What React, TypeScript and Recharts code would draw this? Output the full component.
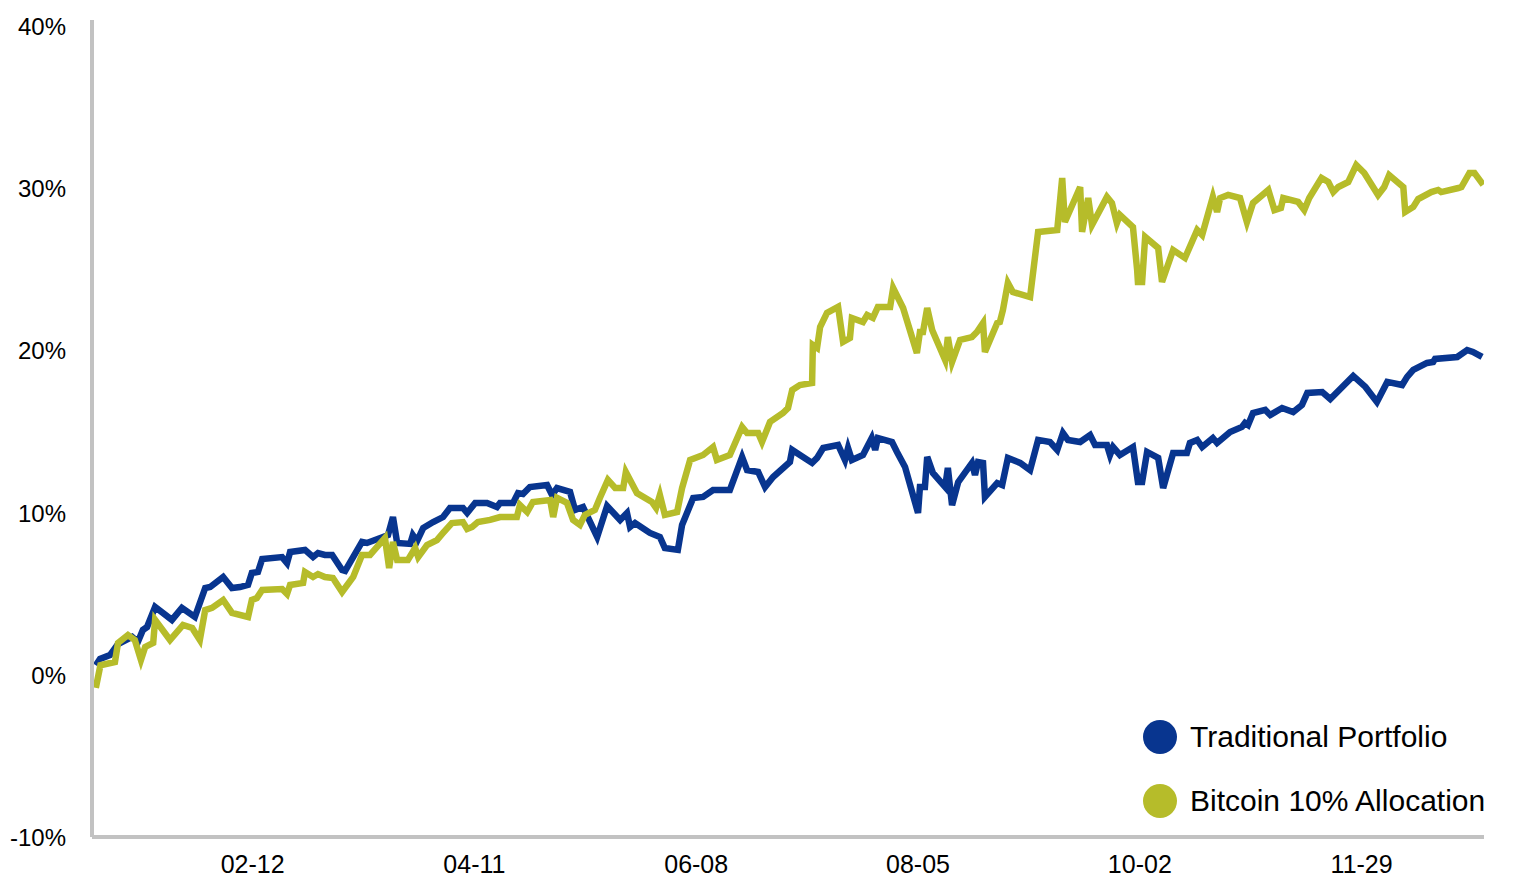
import { LineChart, Line, XAxis, YAxis, Legend } from "recharts";

// day-of-year index (0 = Jan 1) and cumulative return, %
const tradDays = [
  1.0, 2.1, 4.7, 6.8, 10.5, 12.0, 13.3, 14.4, 16.5, 20.9, 23.5, 26.9, 29.6, 30.9, 34.3, 36.6, 38.7, 40.8, 41.8, 43.4,
  44.5, 49.7, 51.0, 51.8, 55.7, 57.8, 59.1, 60.9, 62.8, 65.4, 66.2, 70.6, 71.9, 76.1, 77.4, 78.7, 79.8, 83.2, 83.9, 85.0,
  86.6, 89.2, 91.8, 93.6, 97.0, 98.1, 100.2, 103.3, 105.9, 106.7, 110.1, 111.4, 112.7, 114.5, 119.0, 120.3, 121.6, 125.0, 126.3, 128.4,
  132.1, 134.7, 138.1, 139.9, 140.7, 142.0, 145.9, 148.5, 149.8, 153.2, 154.3, 157.2, 159.8, 162.4, 166.8, 170.0, 171.3, 174.2, 176.0, 178.1,
  182.5, 183.1, 188.3, 189.6, 191.2, 195.1, 196.9, 197.7, 198.7, 201.6, 203.9, 204.8, 205.5, 209.2, 210.5, 212.6, 216.0, 216.5, 217.8, 218.4,
  219.9, 223.1, 223.8, 224.9, 226.5, 230.1, 230.9, 231.7, 233.0, 233.5, 236.7, 238.0, 239.5, 242.7, 245.3, 247.4, 250.5, 252.4, 253.9, 255.2,
  258.4, 261.0, 262.3, 265.4, 266.2, 267.0, 268.8, 272.2, 273.5, 274.6, 275.9, 278.8, 280.1, 282.7, 286.3, 287.1, 289.0, 290.3, 293.1, 294.2,
  297.6, 300.7, 301.5, 302.3, 303.6, 306.8, 308.1, 311.2, 314.1, 316.4, 317.8, 321.7, 323.8, 329.8, 333.0, 336.0, 338.7, 342.6, 343.9, 345.5,
  349.1, 350.7, 351.2, 357.0, 359.6, 361.1, 363.5,
];
const tradValues = [
  0.6, 0.99, 1.23, 1.91, 2.35, 2.04, 2.78, 2.96, 4.2, 3.4, 4.14, 3.58, 5.37, 5.43, 6.05, 5.37, 5.43, 5.56, 6.3, 6.36,
  7.16, 7.28, 6.91, 7.59, 7.72, 7.28, 7.53, 7.41, 7.41, 6.48, 6.42, 8.21, 8.15, 8.52, 8.64, 9.75, 8.15, 8.09, 8.64, 8.27,
  9.07, 9.44, 9.75, 10.31, 10.31, 10.0, 10.62, 10.62, 10.37, 10.62, 10.62, 11.23, 11.17, 11.6, 11.73, 11.11, 11.54, 11.3, 10.19, 10.37,
  8.52, 10.43, 9.57, 10.0, 9.14, 9.38, 8.77, 8.52, 7.84, 7.72, 9.26, 10.93, 10.99, 11.42, 11.42, 13.46, 12.65, 12.53, 11.6, 12.22,
  13.15, 13.89, 13.09, 13.4, 14.01, 14.2, 13.27, 14.01, 13.27, 13.58, 14.63, 13.89, 14.63, 14.38, 13.77, 12.84, 10.0, 11.6, 11.6, 13.46,
  12.47, 11.6, 12.78, 10.49, 11.91, 13.09, 12.35, 13.15, 13.09, 10.99, 11.85, 11.73, 13.4, 13.09, 12.65, 14.51, 14.38, 13.89, 14.94, 14.51,
  14.38, 14.81, 14.2, 14.2, 13.58, 14.07, 13.58, 14.07, 11.91, 11.91, 13.77, 13.4, 11.54, 13.7, 13.7, 14.32, 14.51, 14.07, 14.63, 14.32,
  15.0, 15.31, 15.56, 15.43, 16.17, 16.36, 16.05, 16.48, 16.23, 16.67, 17.41, 17.47, 17.04, 18.46, 17.78, 16.85, 18.09, 17.9, 18.4, 18.83,
  19.26, 19.32, 19.51, 19.63, 20.06, 19.94, 19.63,
];

const btcDays = [
  1.0, 2.2, 6.0, 6.8, 9.4, 11.2, 12.8, 13.9, 16.0, 16.5, 20.4, 23.8, 26.2, 28.2, 29.6, 31.4, 34.3, 36.6, 40.8, 41.8,
  43.1, 44.5, 49.7, 51.0, 51.8, 55.2, 55.7, 57.8, 59.1, 60.9, 63.0, 65.4, 68.3, 70.6, 72.7, 76.6, 77.7, 78.7, 79.8, 82.6,
  84.5, 85.3, 87.6, 90.2, 91.8, 94.1, 97.0, 98.1, 99.4, 100.9, 104.1, 106.7, 111.1, 111.9, 113.8, 115.3, 119.8, 120.6, 121.6, 124.2,
  125.8, 127.6, 128.9, 131.5, 132.8, 134.9, 136.8, 138.9, 139.6, 142.5, 146.4, 147.5, 148.5, 149.8, 153.0, 154.3, 156.4, 159.8, 162.4, 163.4,
  166.8, 170.0, 171.3, 174.2, 175.2, 177.3, 180.7, 182.0, 183.1, 185.1, 188.3, 188.5, 189.6, 190.4, 192.2, 195.1, 196.4, 198.2, 198.7, 201.6,
  202.7, 204.2, 205.5, 208.7, 209.5, 212.1, 215.7, 216.5, 217.3, 218.4, 219.7, 223.1, 223.8, 224.9, 227.0, 230.1, 231.4, 233.0, 233.5, 236.7,
  237.4, 238.2, 239.5, 240.8, 245.3, 247.4, 252.4, 253.7, 254.4, 258.4, 258.9, 260.5, 261.5, 265.4, 266.7, 268.0, 268.8, 272.2, 273.3, 273.5,
  274.6, 275.4, 278.8, 279.8, 282.7, 285.8, 289.0, 290.3, 293.1, 294.2, 295.0, 297.1, 300.2, 302.0, 303.6, 307.6, 309.2, 310.9, 311.5, 315.4,
  317.0, 318.3, 321.5, 323.3, 324.6, 325.9, 328.5, 330.6, 332.7, 336.3, 337.9, 339.2, 342.9, 343.4, 345.5, 346.8, 350.2, 352.0, 352.8, 357.3,
  358.1, 360.2, 361.5, 363.8,
];
const btcValues = [
  -0.8, 0.6, 0.8, 1.98, 2.47, 2.16, 0.93, 1.73, 1.98, 3.4, 2.16, 3.09, 2.9, 2.16, 4.01, 4.14, 4.63, 3.83, 3.58, 4.63,
  4.75, 5.25, 5.31, 5.0, 5.56, 5.68, 6.36, 6.05, 6.23, 6.05, 5.99, 5.12, 6.05, 7.41, 7.41, 8.46, 6.6, 8.21, 7.1, 7.1,
  7.84, 7.28, 8.02, 8.33, 8.77, 9.38, 9.44, 9.01, 9.14, 9.44, 9.57, 9.75, 9.75, 10.49, 10.06, 10.68, 10.8, 9.75, 10.93, 10.62,
  9.57, 9.26, 9.88, 10.19, 10.93, 12.04, 11.54, 11.54, 12.53, 11.23, 10.68, 10.31, 11.11, 9.88, 10.06, 11.54, 13.27, 13.58, 14.07, 13.27,
  13.58, 15.31, 14.94, 14.94, 14.38, 15.62, 16.17, 16.48, 17.59, 17.9, 18.02, 20.37, 20.19, 21.48, 22.35, 22.72, 20.56, 20.8, 22.04, 21.79,
  22.22, 22.04, 22.72, 22.72, 23.89, 22.65, 19.88, 21.17, 21.17, 22.65, 21.3, 19.44, 20.86, 19.32, 20.68, 20.86, 21.17, 21.73, 19.94, 21.73,
  21.79, 22.53, 24.2, 23.64, 23.33, 27.35, 27.47, 30.68, 27.96, 30.12, 27.35, 29.44, 27.78, 29.51, 29.14, 27.9, 28.4, 27.65, 25.0, 24.26,
  24.26, 27.04, 26.36, 24.26, 26.23, 25.74, 27.47, 27.16, 29.51, 28.58, 29.44, 29.63, 29.44, 27.96, 29.14, 29.94, 28.7, 28.83, 29.44, 29.2,
  28.7, 29.44, 30.68, 30.43, 29.81, 30.12, 30.43, 31.48, 30.99, 29.63, 30.12, 30.86, 30.12, 28.58, 28.89, 29.38, 29.81, 29.94, 29.81, 30.06,
  30.12, 30.99, 30.99, 30.25,
];

const tickDays = [42, 100, 158, 216, 274, 332];
const tickLabels = ["02-12", "04-11", "06-08", "08-05", "10-02", "11-29"];
const yTicks = [-10, 0, 10, 20, 30, 40];

const series = [
  { name: "Traditional Portfolio", color: "#08358f" },
  { name: "Bitcoin 10% Allocation", color: "#b6bc2a" },
];

const tradData = tradDays.map((day, i) => ({ day, value: tradValues[i] }));
const btcData = btcDays.map((day, i) => ({ day, value: btcValues[i] }));

const font = "'Liberation Sans', Arial, Helvetica, sans-serif";
const axisGray = "#c2c2c2";

function LegendBox() {
  return (
    <div style={{ fontFamily: font }}>
      {series.map(s => (
        <div key={s.name} style={{ display: "flex", alignItems: "center", height: 64 }}>
          <span
            style={{
              display: "inline-block",
              width: 34,
              height: 34,
              borderRadius: "50%",
              background: s.color,
              marginRight: 13,
            }}
          />
          <span style={{ fontSize: 30, color: "#000", whiteSpace: "nowrap" }}>{s.name}</span>
        </div>
      ))}
    </div>
  );
}

export default function App() {
  return (
    <div style={{ position: "absolute", left: 0, top: 0, background: "#fff" }}>
      <LineChart width={1516} height={892} margin={{ top: 20, right: 32, bottom: 5, left: 0 }}>
        <XAxis
          type="number"
          dataKey="day"
          domain={[0, 364]}
          ticks={tickDays}
          tickFormatter={(v: number) => tickLabels[tickDays.indexOf(v)] ?? ""}
          axisLine={{ stroke: axisGray, strokeWidth: 4 }}
          tickLine={false}
          tickMargin={12}
          height={50}
          tick={{ fill: "#000", fontSize: 25, fontFamily: font }}
          allowDataOverflow
        />
        <YAxis
          type="number"
          domain={[-10, 40.43]}
          ticks={yTicks}
          tickFormatter={(v: number) => `${v}%`}
          axisLine={{ stroke: axisGray, strokeWidth: 4 }}
          tickLine={false}
          tickMargin={20}
          width={92}
          tick={{ fill: "#000", fontSize: 24, fontFamily: font }}
          allowDataOverflow
        />
        <Legend
          content={<LegendBox />}
          layout="horizontal"
          verticalAlign="middle"
          align="center"
          wrapperStyle={{ left: 1143, top: 705, width: 370 }}
        />
        <Line
          data={tradData}
          dataKey="value"
          name={series[0].name}
          type="linear"
          stroke={series[0].color}
          strokeWidth={6.5}
          dot={false}
          activeDot={false}
          isAnimationActive={false}
        />
        <Line
          data={btcData}
          dataKey="value"
          name={series[1].name}
          type="linear"
          stroke={series[1].color}
          strokeWidth={6.5}
          dot={false}
          activeDot={false}
          isAnimationActive={false}
        />
      </LineChart>
    </div>
  );
}
